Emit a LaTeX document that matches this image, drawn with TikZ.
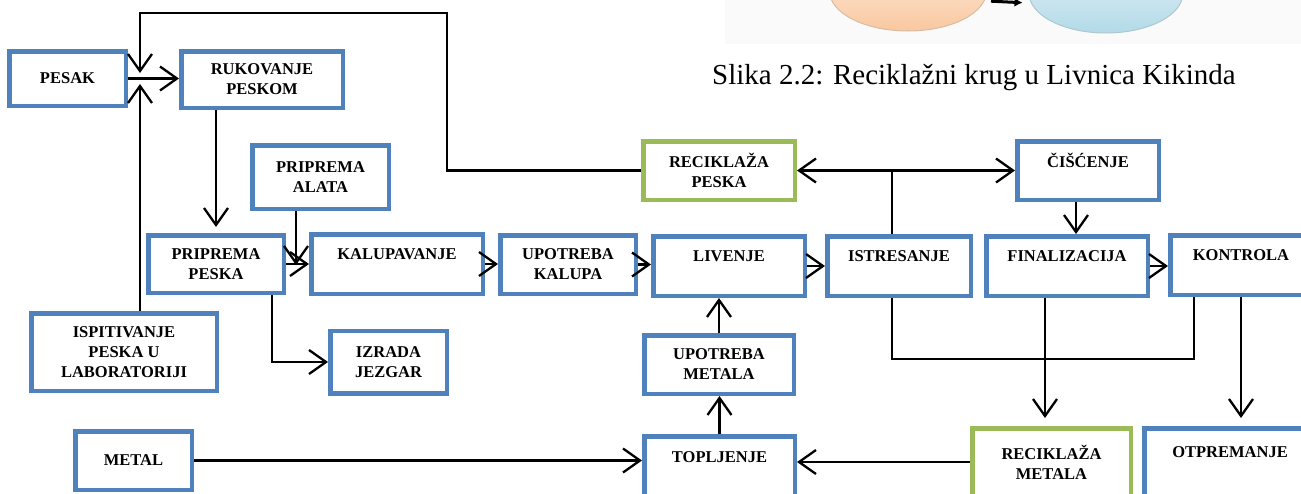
\documentclass[tikz,border=0pt]{standalone}
\usepackage{fontspec}
\setmainfont{Liberation Serif}
\usepackage{tikz}
\usetikzlibrary{arrows.meta, shapes.geometric, calc}
\definecolor{plava}{RGB}{79,129,189}
\definecolor{zelena}{RGB}{155,187,89}
\definecolor{narandzasta}{RGB}{249,200,160}
\definecolor{svetloplava}{RGB}{178,218,232}

\begin{document}
\begin{tikzpicture}[x=1pt,y=-1pt,>={Straight Barb[length=17pt,width=24pt]},
            box/.style={draw=plava,line width=4.5pt,fill=white,align=center,inner sep=0pt,
            font=\bfseries\fontsize{16.5}{20}\selectfont},
            reciklaza/.style={box,draw=zelena},
            veza/.style={black,line width=2.3pt}]
            \useasboundingbox (0,0) rectangle (1301,493);
            \clip (0,0) rectangle (1301,493);

            \fill[black!2] (725,0) rectangle (1301,44);
            \node[ellipse,minimum width=157,minimum height=80,draw=narandzasta!80!black!70,line width=1pt,
                top color=narandzasta!30,bottom color=narandzasta] (narandz) at (908,-9) {};
            \node[ellipse,minimum width=154,minimum height=80,draw=svetloplava!80!black!70,line width=1pt,
                top color=svetloplava!30,bottom color=svetloplava] (plavi) at (1106,-7) {};
            \draw[-{Latex[length=8pt,width=9pt]},line width=3pt,shorten <=4pt,shorten >=6pt]
                ([yshift=-10pt]narandz.east) -- ([yshift=-10pt]plavi.west);
            \node[anchor=base west,inner sep=0pt,font=\fontsize{29}{34}\selectfont] (naslov) at (712,84)
                {Slika 2.2: Reciklažni krug u Livnica Kikinda};

            \node[box,minimum width=116.5,minimum height=54.5] (pesak) at (67.5,78.5) {PESAK};
            \node[box,minimum width=161.5,minimum height=56.5] (rukovanje) at (262,79.5) {RUKOVANJE\\PESKOM};
            \node[box,minimum width=136.5,minimum height=63.5] (alata) at (320.5,177) {PRIPREMA\\ALATA};
            \node[box,minimum width=135.5,minimum height=57.5] (ppeska) at (216,264) {PRIPREMA\\PESKA};
            \node[box,minimum width=171.5,minimum height=59.5] (kalup) at (397,264) {KALUPAVANJE\\~};
            \node[box,minimum width=135.5,minimum height=58.5] (upkalupa) at (568,264.5) {UPOTREBA\\KALUPA};
            \node[box,minimum width=151.5,minimum height=59.5] (livenje) at (729,266) {LIVENJE\\~};
            \node[box,minimum width=143.5,minimum height=59.5] (istres) at (899,266) {ISTRESANJE\\~};
            \node[box,minimum width=161.5,minimum height=59.5] (final) at (1067,266) {FINALIZACIJA\\~};
            \node[box,minimum width=141.5,minimum height=59.5] (kontrola) at (1241,265) {KONTROLA\\~};
            \node[reciklaza,minimum width=151.5,minimum height=58.5] (recpeska) at (719,170.5) {RECIKLAŽA\\PESKA};
            \node[box,minimum width=141.5,minimum height=58.5] (ciscenje) at (1088,170.5) {ČIŠĆENJE\\~};
            \node[box,minimum width=185.5,minimum height=77.5] (ispit) at (124,352) {ISPITIVANJE\\PESKA U\\LABORATORIJI};
            \node[box,minimum width=116.5,minimum height=62.5] (izrada) at (388.5,362) {IZRADA\\JEZGAR};
            \node[box,minimum width=149.5,minimum height=58.5] (upmetala) at (719,364.5) {UPOTREBA\\METALA};
            \node[box,minimum width=116.5,minimum height=58.5] (metal) at (133.5,460.5) {METAL};
            \node[box,minimum width=150.5,minimum height=61.5] (topljenje) at (719.5,467) {TOPLJENJE\\~};
            \node[reciklaza,minimum width=158.5,minimum height=67.5] (recmetala) at (1051.5,462) {RECIKLAŽA\\METALA};
            \node[box,minimum width=171.5,minimum height=67.5] (otprem) at (1230,462) {OTPREMANJE\\~};

            \coordinate (gore) at (140,73);
            \coordinate (dole) at (140,84);
            \coordinate (spoj) at (296,265);
            \coordinate (sabir) at (1194,359);

            \draw[veza,->] (pesak.east) -- (pesak.east -| rukovanje.west);
            \draw[veza,->] (recpeska.west) -| (447,13) -| (gore);
            \draw[veza,->] (ispit.north -| dole) -- (dole);
            \draw[veza,->,shorten >=6pt] (ppeska.north |- rukovanje.south) -- (ppeska.north);
            \draw[veza,->] (alata.south -| spoj) -- (spoj);
            \draw[veza,->] (ppeska.east) -- (ppeska.east -| kalup.west);
            \draw[veza,->] (kalup.east) -- (kalup.east -| upkalupa.west);
            \draw[veza,->] (upkalupa.east) -- (upkalupa.east -| livenje.west);
            \draw[veza,->] (livenje.east) -- (livenje.east -| istres.west);
            \draw[veza,->] (final.east) -- (final.east -| kontrola.west);
            \draw[veza,->] ([xshift=56pt]ppeska.south) |- (izrada.west);

            \draw[veza,<->] (recpeska.east) -- (ciscenje.west);
            \draw[veza] ([xshift=-7pt]istres.north) -- ([xshift=-7pt]istres.north |- recpeska.east);
            \draw[veza,->] ([xshift=-12pt]ciscenje.south) -- ([xshift=-12pt]ciscenje.south |- final.north);

            \draw[veza] ([xshift=-7pt]istres.south) |- (sabir) -- (sabir |- kontrola.south);
            \draw[veza,->,shorten >=8pt] ([xshift=-22pt]final.south) -- ([xshift=-22pt]final.south |- recmetala.north);
            \draw[veza,->,shorten >=8pt] (kontrola.south) -- (kontrola.south |- otprem.north);

            \draw[veza,->] (upmetala.north) -- (upmetala.north |- livenje.south);
            \draw[veza,->] (topljenje.north) -- (topljenje.north |- upmetala.south);
            \draw[veza,->] (metal.east) -- (metal.east -| topljenje.west);
            \draw[veza,->] (recmetala.west) -- (recmetala.west -| topljenje.east);
        \end{tikzpicture}
\end{document}
